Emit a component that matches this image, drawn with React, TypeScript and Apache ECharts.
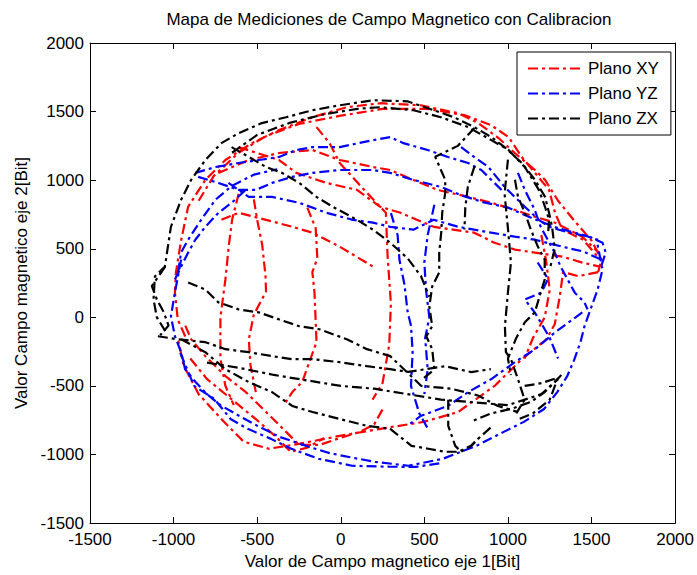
import React, { useEffect, useRef } from "react";
import * as echarts from "echarts";

const titleText = "Mapa de Mediciones de Campo Magnetico con Calibracion";
const xName = "Valor de Campo magnetico eje 1[Bit]";
const yName = "Valor Campo magnetico eje 2[Bit]";
const seriesNames = ["Plano XY", "Plano YZ", "Plano ZX"];
const seriesColors = ["#ff0000", "#0000ff", "#000000"];
const axisMin = -1500;
const axisMax = 2000;
const axisStep = 500;

// Plano XY (red) strokes, [x, y]
const redStrokes: number[][][] = [
  [[-930,-140],[-975,-15],[-992,181],[-986,327],[-955,560],[-913,806],[-810,1002],[-690,1147],[-532,1270],[-369,1365],[-169,1459],[36,1532],[236,1561],[478,1546],[702,1488],[823,1416],[944,1307],[1041,1198],[1162,1074],[1222,1002],[1300,850],[1400,700],[1500,560],[1560,420],[1540,330]],
  [[-850,850],[-760,1030],[-611,1200],[-450,1320],[-250,1410],[0,1470],[250,1520],[520,1520],[738,1475],[901,1400],[1004,1314],[1083,1169],[1162,1053],[1246,929],[1282,762],[1325,639],[1450,566],[1545,430]],
  [[1540,330],[1420,300],[1330,330],[1310,150],[1280,-50],[1230,-160],[1083,-305],[920,-500],[702,-690],[496,-762],[236,-813],[-6,-864],[-248,-922],[-430,-958],[-580,-907],[-700,-760],[-850,-560],[-940,-350],[-975,-150]],
  [[-930,-60],[-895,-160],[-810,-283],[-690,-428],[-568,-545],[-447,-690],[-327,-835],[-248,-930],[-127,-930],[-6,-880],[115,-835],[200,-780],[260,-650]],
  [[-900,-300],[-800,-450],[-650,-600],[-500,-750],[-380,-880],[-300,-980],[-200,-950],[-100,-880]],
  [[-145,1387],[-67,1270],[-6,1125],[157,907],[270,762],[280,450],[300,100],[290,-200],[250,-480],[190,-600]],
  [[-200,800],[-150,650],[-140,430],[-170,330],[-157,181],[-145,-180],[-230,-470],[-290,-545],[-340,-640]],
  [[-611,900],[-650,711],[-670,520],[-690,276],[-720,0],[-720,-300],[-690,-500],[-640,-640]],
  [[-520,860],[-500,711],[-470,530],[-450,300],[-447,187],[-520,20],[-550,-160],[-540,-350],[-508,-545]],
  [[-732,1053],[-550,1147],[-369,1198],[-169,1220],[-6,1147],[193,1096],[296,1074],[435,1002],[580,929],[762,878],[901,835],[1041,784],[1162,733],[1282,690],[1445,588],[1545,470]],
  [[-611,1241],[-369,1147],[-266,1053],[-85,980],[97,929],[236,806],[357,762],[556,660],[798,617],[919,544],[1041,494],[1162,472],[1325,443],[1445,399],[1550,370]],
  [[-714,711],[-611,762],[-447,711],[-290,660],[-169,617],[-6,515],[193,370]],
  [[1200,600],[1230,400],[1250,200],[1220,0],[1150,-150],[1100,-300]],
];

// Plano YZ (blue) strokes
const blueStrokes: number[][][] = [
  [[-955,421],[-992,181],[-1016,7],[-992,-138],[-955,-254],[-931,-378],[-870,-470],[-800,-560],[-720,-640],[-620,-710],[-500,-790],[-369,-870],[-200,-940],[-67,-990],[100,-1030],[205,-1053],[405,-1082],[611,-1031],[811,-937],[975,-835],[1095,-762],[1216,-668],[1295,-545],[1355,-428],[1398,-305],[1434,-181],[1458,-65],[1494,58],[1536,200],[1566,348],[1536,530]],
  [[-960,-260],[-877,-500],[-756,-595],[-659,-741],[-556,-813],[-417,-886],[-296,-958],[-133,-1031],[67,-1082],[290,-1089],[450,-1090],[611,-1060]],
  [[-992,276],[-955,370],[-913,472],[-870,566],[-810,660],[-732,762],[-653,835],[-568,929]],
  [[-870,1053],[-750,1096],[-611,1125],[-490,1147],[-369,1169],[-266,1220],[-169,1241],[-6,1241],[193,1292],[296,1314],[375,1270],[520,1220],[641,1169],[762,1125],[841,1074],[901,1002],[962,929]],
  [[-853,1024],[-732,980],[-611,929],[-508,929],[-411,980],[-290,1024],[-169,1053],[-6,1074],[193,1074],[296,1053],[435,1002],[600,950],[720,890],[850,840],[1000,800],[1150,720],[1300,650],[1450,600],[1550,560]],
  [[-672,980],[-611,929],[-550,878],[-411,878],[-248,835],[-85,762],[72,711],[193,690],[296,660],[435,639],[556,711],[702,660],[798,639],[901,617],[1041,588],[1162,566],[1325,515],[1450,480],[1560,420]],
  [[720,1241],[798,1169],[883,1096],[980,951],[1101,806],[1185,711],[1246,660],[1367,617],[1488,588],[1566,544],[1585,472],[1560,380]],
  [[-974,327],[-955,472],[-913,566],[-835,711],[-750,857],[-650,960],[-520,1040],[-380,1080]],
  [[1445,36],[1282,-109],[1162,-232],[1041,-327],[901,-450],[762,-545],[641,-646],[478,-719],[399,-791]],
  [[300,760],[340,600],[351,420],[381,240],[400,40],[420,-60],[430,-250],[420,-500],[470,-700],[520,-810]],
  [[560,820],[520,600],[500,400],[510,200],[530,0],[505,-150],[520,-380],[500,-560]],
  [[1060,1053],[1101,929],[1160,784],[1196,660],[1238,566],[1280,472],[1315,370],[1357,276],[1400,180],[1458,109],[1476,58]],
  [[1178,400],[1240,280],[1200,180],[1101,130],[1160,36],[1196,-36],[1250,-150],[1300,-300]],
];

// Plano ZX (black) strokes
const blackStrokes: number[][][] = [
  [[-1050,-100],[-1100,0],[-1120,130],[-1112,298],[-1052,370],[-1034,515],[-1016,660],[-955,857],[-895,1002],[-810,1147],[-714,1270],[-611,1343],[-472,1416],[-327,1459],[-169,1510],[-6,1546],[193,1583],[399,1575],[556,1510],[677,1459],[798,1387],[901,1314],[980,1241],[1083,1125],[1162,1002],[1222,878],[1246,762],[1264,660],[1280,500],[1250,350]],
  [[-650,1200],[-500,1330],[-300,1420],[-100,1480],[100,1520],[236,1532],[435,1510],[599,1459],[762,1387],[901,1292],[1004,1220],[1101,1096],[1185,929],[1222,806],[1246,711],[1240,600]],
  [[1042,1003],[1060,880],[1101,763],[1137,640],[1179,516],[1220,421],[1220,276],[1196,181],[1161,36],[1101,-36],[1050,-150],[1000,-300],[1018,-420]],
  [[1000,1150],[980,900],[1000,650],[1018,400],[1000,181],[982,-65],[988,-254],[1018,-305],[1060,-450],[1100,-600],[1050,-700]],
  [[800,1380],[700,1250],[565,1170],[625,1003],[625,908],[607,763],[601,618],[589,472],[589,327],[547,225],[530,80],[547,-65],[512,-138],[547,-232],[560,-380],[480,-460]],
  [[800,1100],[760,950],[745,800],[740,640]],
  [[-653,1241],[-550,1169],[-447,1096],[-351,1053],[-248,980],[-145,878],[-48,806],[97,711],[193,639],[296,544],[400,430],[480,300],[530,150]],
  [[-1094,-138],[-974,-160],[-810,-181],[-690,-232],[-550,-254],[-411,-283],[-290,-305],[-169,-305],[-6,-327],[157,-356],[296,-378],[404,-398],[506,-378],[625,-356],[780,-399],[898,-378]],
  [[-913,254],[-810,203],[-732,109],[-611,58],[-490,36],[-369,-15],[-248,-65],[-127,-87],[36,-160],[157,-232],[296,-283],[482,-500],[661,-520],[821,-570],[940,-646],[1060,-690]],
  [[-955,-160],[-810,-254],[-690,-378],[-550,-472],[-411,-545],[-290,-646],[-169,-690],[-6,-741],[157,-791],[296,-813],[423,-937],[524,-958],[625,-980],[702,-980],[780,-937],[821,-886]],
  [[-800,-330],[-600,-370],[-400,-420],[-200,-460],[0,-500],[200,-520],[400,-560],[600,-600],[800,-620],[1000,-640],[1200,-560],[1300,-450]],
  [[643,-600],[643,-791],[685,-937],[720,-980],[780,-937],[821,-886],[900,-800]],
  [[1320,-420],[1220,-545],[1137,-617],[1018,-668],[900,-700],[780,-760]],
  [[1100,-500],[1200,-480],[1300,-440],[1250,-600],[1150,-700],[1050,-750]],
  [[-1050,370],[-1090,300],[-1130,228],[-1100,130],[-1060,40],[-1030,-60],[-1080,-130]],
];

const FONT = "'Liberation Sans', Arial, Helvetica, sans-serif";

export default function App() {
  const ref = useRef<HTMLDivElement>(null);
  useEffect(() => {
    if (!ref.current) return;
    const chart = echarts.init(ref.current, undefined, { renderer: "svg" });
    const groups = [redStrokes, blueStrokes, blackStrokes];
    const series: any[] = [];
    groups.forEach((strokes, gi) => {
      strokes.forEach((s) => {
        series.push({
          type: "line",
          name: seriesNames[gi],
          data: s,
          symbol: "none",
          color: seriesColors[gi],
          lineStyle: { color: seriesColors[gi], width: 2.2, type: [10, 4, 3, 4] },
          xAxisIndex: 0,
          yAxisIndex: 0,
          silent: true,
        });
      });
    });
    const baseAxis = {
      type: "value",
      min: axisMin,
      max: axisMax,
      interval: axisStep,
      splitLine: { show: false },
      axisLine: { show: true, onZero: false, lineStyle: { color: "#000", width: 1 } },
      axisTick: { show: true, inside: true, length: 6, lineStyle: { color: "#000" } },
    };
    const fmt = (v: number) => String(v);
    chart.setOption({
      animation: false,
      backgroundColor: "#fff",
      title: {
        text: titleText,
        left: 384,
        top: 6,
        textAlign: "center",
        textStyle: { fontFamily: FONT, fontSize: 17, fontWeight: "normal", color: "#000" },
      },
      grid: { left: 90, right: 19, top: 43, bottom: 50 },
      legend: {
        data: seriesNames,
        orient: "vertical",
        left: 517,
        top: 52,
        itemWidth: 55,
        itemHeight: 14,
        itemGap: 8,
        padding: [8, 12, 8, 10],
        borderColor: "#000",
        borderWidth: 1,
        backgroundColor: "#fff",
        itemStyle: { opacity: 0 },
        textStyle: { fontFamily: FONT, fontSize: 17, color: "#000" },
      },
      xAxis: [
        {
          ...baseAxis,
          position: "bottom",
          name: xName,
          nameLocation: "middle",
          nameGap: 16,
          nameTextStyle: { fontFamily: FONT, fontSize: 17, color: "#000" },
          axisLabel: { fontFamily: FONT, fontSize: 17, color: "#000", margin: 8, formatter: fmt },
        },
        { ...baseAxis, position: "top", axisLabel: { show: false } },
      ],
      yAxis: [
        {
          ...baseAxis,
          position: "left",
          name: yName,
          nameLocation: "middle",
          nameGap: 52,
          nameRotate: 90,
          nameTextStyle: { fontFamily: FONT, fontSize: 17, color: "#000" },
          axisLabel: { fontFamily: FONT, fontSize: 17, color: "#000", margin: 6, formatter: fmt },
        },
        { ...baseAxis, position: "right", axisLabel: { show: false } },
      ],
      series,
    });
    return () => chart.dispose();
  }, []);
  return (
    <div
      ref={ref}
      style={{ position: "fixed", left: 0, top: 0, width: 697, height: 575 }}
    />
  );
}
